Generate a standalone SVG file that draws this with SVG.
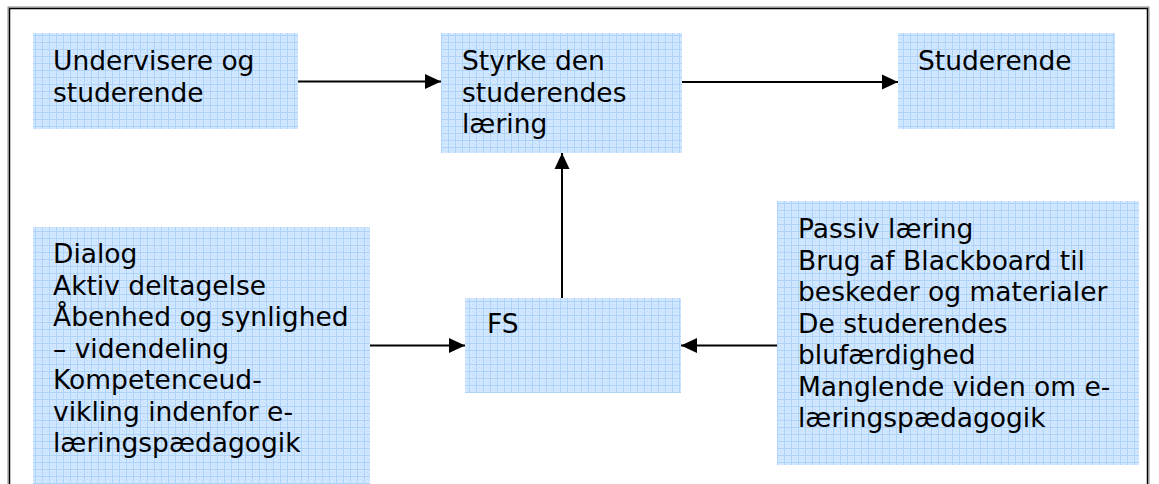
<svg xmlns="http://www.w3.org/2000/svg" width="1159" height="484" viewBox="0 0 1159 484">
  <defs>
    <!-- light blue graph-paper fill used by every box -->
    <pattern id="grid" x="0" y="0" width="7" height="7" patternUnits="userSpaceOnUse">
      <rect width="7" height="7" fill="#d0e7ff"/>
      <rect x="0" y="0" width="7" height="1" fill="#aed3fb"/>
      <rect x="0" y="0" width="1" height="7" fill="#aed3fb"/>
      <rect x="3" y="3" width="1" height="1" fill="#b9dafb"/>
      <rect x="5" y="4" width="1" height="1" fill="#c0ddfb"/>
    </pattern>
    <marker id="arrow" markerWidth="17" markerHeight="16" refX="16" refY="8" orient="auto" markerUnits="userSpaceOnUse">
      <path d="M0,0.5 L16,8 L0,15.5 Z" fill="#000"/>
    </marker>
    <style>
      .box { fill: url(#grid); }
      .label { font-family: "DejaVu Sans", Verdana, sans-serif; font-size: 26.5px; fill: #000; }
      .conn { stroke: #000; stroke-width: 2; fill: none; marker-end: url(#arrow); }
    </style>
  </defs>

  <!-- page frame -->
  <rect x="8" y="7" width="1141" height="490" fill="#fff" stroke="#8a8a8a" stroke-width="1"/>
  <rect x="9.5" y="8.5" width="1138" height="490" fill="none" stroke="#000" stroke-width="1.5"/>

  <g id="undervisere">
    <rect class="box" x="33" y="33" width="265" height="96"/>
    <text class="label" x="53" y="70">Undervisere og</text>
    <text class="label" x="53" y="101.5">studerende</text>
  </g>

  <g id="styrke">
    <rect class="box" x="441" y="33" width="241" height="120"/>
    <text class="label" x="462" y="70">Styrke den</text>
    <text class="label" x="462" y="101.5">studerendes</text>
    <text class="label" x="462" y="133">læring</text>
  </g>

  <g id="studerende">
    <rect class="box" x="898" y="33" width="217" height="96"/>
    <text class="label" x="918" y="70">Studerende</text>
  </g>

  <g id="fremmende">
    <rect class="box" x="33" y="227" width="337" height="270"/>
    <text class="label" x="53" y="263">Dialog</text>
    <text class="label" x="53" y="294.5">Aktiv deltagelse</text>
    <text class="label" x="53" y="326">Åbenhed og synlighed</text>
    <text class="label" x="53" y="357.5">– videndeling</text>
    <text class="label" x="53" y="389">Kompetenceud-</text>
    <text class="label" x="53" y="420.5">vikling indenfor e-</text>
    <text class="label" x="53" y="452">læringspædagogik</text>
  </g>

  <g id="fs">
    <rect class="box" x="465" y="298" width="216" height="95"/>
    <text class="label" x="487" y="333">FS</text>
  </g>

  <g id="haemmende">
    <rect class="box" x="777" y="201" width="362" height="264"/>
    <text class="label" x="798" y="238">Passiv læring</text>
    <text class="label" x="798" y="269.5">Brug af Blackboard til</text>
    <text class="label" x="798" y="301">beskeder og materialer</text>
    <text class="label" x="798" y="332.5">De studerendes</text>
    <text class="label" x="798" y="364">blufærdighed</text>
    <text class="label" x="798" y="395.5">Manglende viden om e-</text>
    <text class="label" x="798" y="427">læringspædagogik</text>
  </g>

  <g id="connectors">
    <line class="conn" x1="298" y1="81.5" x2="441" y2="81.5"/>
    <line class="conn" x1="682" y1="82" x2="898" y2="82"/>
    <line class="conn" x1="562" y1="298" x2="562" y2="153"/>
    <line class="conn" x1="370" y1="345.5" x2="465" y2="345.5"/>
    <line class="conn" x1="777" y1="345.5" x2="681" y2="345.5"/>
  </g>
</svg>
